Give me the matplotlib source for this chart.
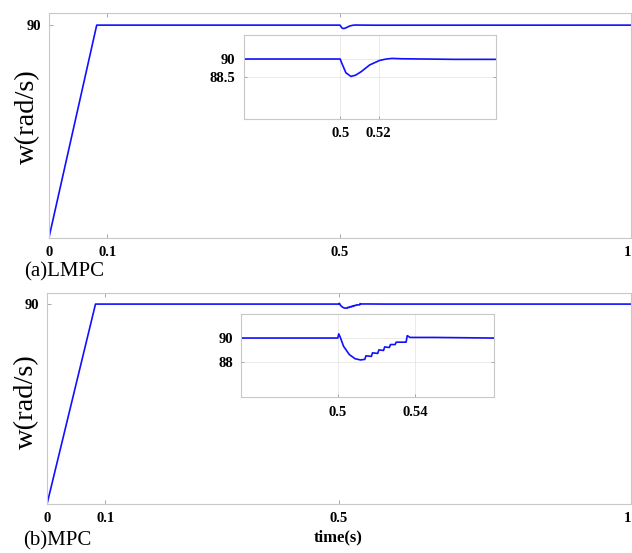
import matplotlib
matplotlib.use("Agg")
import matplotlib.pyplot as plt

plt.rcParams["font.family"] = ["Liberation Serif", "DejaVu Serif"]

# (a) LMPC speed response
t_lmpc = [0.0, 0.082, 0.5, 0.501, 0.503, 0.5056, 0.508, 0.511, 0.5153, 0.5205,
          0.524, 0.527, 0.532, 0.56, 0.58, 1.0]
w_lmpc = [0.0, 90.0, 90.0, 89.6, 88.85, 88.55, 88.65, 88.95, 89.5, 89.88,
          90.0, 90.05, 90.02, 89.97, 89.97, 90.0]

# (b) MPC speed response
t_mpc = [0.0, 0.083, 0.5, 0.5005, 0.5012, 0.503, 0.506, 0.509, 0.5118, 0.514,
         0.5146, 0.5174, 0.518, 0.5207, 0.5213, 0.5237, 0.5243, 0.5267, 0.5273,
         0.5297, 0.5303, 0.5354, 0.536, 0.5375, 0.55, 0.58, 1.0]
w_mpc = [0.0, 90.0, 90.0, 90.35, 90.1, 89.3, 88.6, 88.25, 88.15, 88.2,
         88.5, 88.45, 88.75, 88.7, 89.0, 88.95, 89.25, 89.2, 89.45,
         89.45, 89.65, 89.65, 90.2, 90.05, 90.05, 90.0, 90.0]

main_xticks = [0, 0.1, 0.5, 1]
main_xlabels = ["0", "0.1", "0.5", "1"]
inset_xticks_a = [0.5, 0.52]
inset_xlabels_a = ["0.5", "0.52"]
inset_yticks_a = [88.5, 90]
inset_ylabels_a = ["88.5", "90"]
inset_xticks_b = [0.5, 0.54]
inset_xlabels_b = ["0.5", "0.54"]
inset_yticks_b = [88, 90]
inset_ylabels_b = ["88", "90"]

LINE = "#1010ff"
SPINE = "#c8c8c8"


def style_axes(ax, fs):
    for s in ax.spines.values():
        s.set_color(SPINE)
        s.set_linewidth(0.8)
    ax.tick_params(direction="in", length=3, width=0.6, color="#999999",
                   labelsize=fs, pad=6, top=True, right=True)
    for lab in ax.get_xticklabels() + ax.get_yticklabels():
        lab.set_fontweight("bold")


def main_panel(rect, t, w):
    ax = fig.add_axes(rect)
    ax.plot(t, w, color=LINE, lw=1.2)
    ax.set_xlim(0, 1)
    ax.set_ylim(0, 95)
    ax.set_xticks(main_xticks)
    ax.set_xticklabels(main_xlabels)
    ax.set_yticks([90])
    style_axes(ax, 10.5)
    ax.tick_params(axis="y", right=False)
    # last label sits on the figure edge, keep it inside
    ax.get_xticklabels()[-1].set_horizontalalignment("right")
    ax.set_ylabel("w(rad/s)", fontsize=20.5)
    return ax


def inset_panel(rect, t, w, xt, xl, yt, yl):
    ax = fig.add_axes(rect)
    ax.plot(t, w, color=LINE, lw=1.2)
    ax.set_xlim(0.45, 0.581)
    ax.set_ylim(85, 92)
    ax.set_xticks(xt)
    ax.set_xticklabels(xl)
    ax.set_yticks(yt)
    ax.set_yticklabels(yl)
    ax.grid(True, color="#e6e6e6", lw=0.6)
    style_axes(ax, 10.5)
    ax.tick_params(top=False, length=2)
    return ax


fig = plt.figure(figsize=(6.32, 5.53), dpi=100)

ax_a = main_panel([0.0775, 0.5705, 0.921, 0.4054], t_lmpc, w_lmpc)
ax_a.yaxis.set_label_coords(-0.016, 0.54)
inset_panel([0.386, 0.7848, 0.3987, 0.1519], t_lmpc, w_lmpc,
            inset_xticks_a, inset_xlabels_a, inset_yticks_a, inset_ylabels_a)

ax_b = main_panel([0.0744, 0.0886, 0.924, 0.3816], t_mpc, w_mpc)
ax_b.yaxis.set_label_coords(-0.014, 0.485)
inset_panel([0.3818, 0.2816, 0.40, 0.150], t_mpc, w_mpc,
            inset_xticks_b, inset_xlabels_b, inset_yticks_b, inset_ylabels_b)

fig.text(0.038, 0.509, "(a)LMPC", fontsize=15, ha="left", va="center")
fig.text(0.036, 0.022, "(b)MPC", fontsize=15, ha="left", va="center")
fig.text(0.535, 0.028, "time(s)", fontsize=12, fontweight="bold",
         ha="center", va="center")

fig.savefig("out.png", dpi=100)
